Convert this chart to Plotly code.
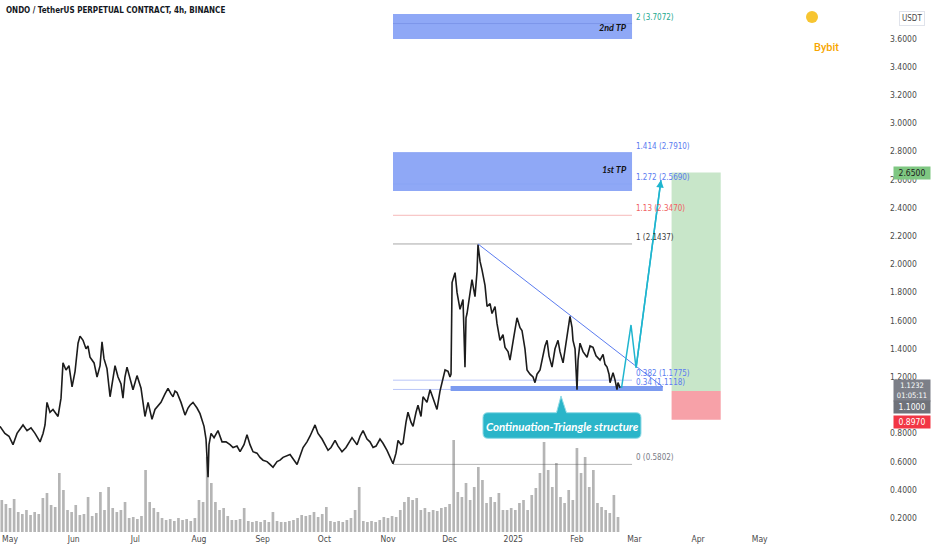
import plotly.graph_objects as go
import pandas as pd

# ---------------- data ----------------
price_dates = [
    "2024-04-26 03:00", "2024-04-28 12:00", "2024-04-30 12:00", "2024-05-02 11:00", "2024-05-04 10:00",
    "2024-05-05 21:00", "2024-05-07 08:00", "2024-05-09 07:00", "2024-05-11 05:00", "2024-05-13 04:00",
    "2024-05-15 15:00", "2024-05-17 02:00", "2024-05-18 01:00", "2024-05-19 00:00", "2024-05-20 11:00",
    "2024-05-21 22:00", "2024-05-23 10:00", "2024-05-24 09:00", "2024-05-25 20:00", "2024-05-26 19:00",
    "2024-05-28 06:00", "2024-05-29 17:00", "2024-05-31 05:00", "2024-06-01 16:00", "2024-06-03 03:00",
    "2024-06-04 02:00", "2024-06-05 13:00", "2024-06-07 00:00", "2024-06-07 23:00", "2024-06-08 23:00",
    "2024-06-10 22:00", "2024-06-12 09:00", "2024-06-13 20:00", "2024-06-14 19:00", "2024-06-15 18:00",
    "2024-06-17 05:00", "2024-06-18 17:00", "2024-06-20 04:00", "2024-06-21 03:00", "2024-06-22 14:00",
    "2024-06-24 01:00", "2024-06-25 00:00", "2024-06-25 23:00", "2024-06-26 23:00", "2024-06-28 10:00",
    "2024-06-29 21:00", "2024-07-01 20:00", "2024-07-03 19:00", "2024-07-05 17:00", "2024-07-07 05:00",
    "2024-07-08 04:00", "2024-07-09 03:00", "2024-07-10 14:00", "2024-07-11 14:00", "2024-07-13 12:00",
    "2024-07-15 11:00", "2024-07-16 22:00", "2024-07-18 09:00", "2024-07-19 09:00", "2024-07-20 08:00",
    "2024-07-21 07:00", "2024-07-23 06:00", "2024-07-25 05:00", "2024-07-26 16:00", "2024-07-27 15:00",
    "2024-07-29 02:00", "2024-07-31 01:00", "2024-08-01 12:00", "2024-08-03 11:00", "2024-08-04 10:00",
    "2024-08-05 10:00", "2024-08-05 21:00", "2024-08-06 21:00", "2024-08-08 08:00", "2024-08-10 06:00",
    "2024-08-12 05:00", "2024-08-14 04:00", "2024-08-16 03:00", "2024-08-17 14:00", "2024-08-19 12:00",
    "2024-08-21 00:00", "2024-08-22 22:00", "2024-08-24 09:00", "2024-08-25 20:00", "2024-08-27 07:00",
    "2024-08-29 06:00", "2024-08-30 17:00", "2024-09-01 04:00", "2024-09-03 03:00", "2024-09-04 14:00",
    "2024-09-06 01:00", "2024-09-08 00:00", "2024-09-09 11:00", "2024-09-10 22:00", "2024-09-12 21:00",
    "2024-09-14 08:00", "2024-09-15 19:00", "2024-09-17 18:00", "2024-09-19 05:00", "2024-09-20 16:00",
    "2024-09-22 14:00", "2024-09-24 01:00", "2024-09-26 12:00", "2024-09-27 23:00", "2024-09-29 22:00",
    "2024-10-01 09:00", "2024-10-02 20:00", "2024-10-04 07:00", "2024-10-06 06:00", "2024-10-07 17:00",
    "2024-10-09 15:00", "2024-10-11 14:00", "2024-10-13 01:00", "2024-10-14 12:00", "2024-10-15 23:00",
    "2024-10-16 23:00", "2024-10-18 10:00", "2024-10-19 21:00", "2024-10-21 19:00", "2024-10-23 06:00",
    "2024-10-24 18:00", "2024-10-26 05:00", "2024-10-28 03:00", "2024-10-29 14:00", "2024-10-31 13:00",
    "2024-11-02 12:00", "2024-11-03 11:00", "2024-11-04 22:00", "2024-11-05 22:00", "2024-11-07 09:00",
    "2024-11-08 08:00", "2024-11-09 19:00", "2024-11-10 18:00", "2024-11-12 05:00", "2024-11-13 05:00",
    "2024-11-14 16:00", "2024-11-15 15:00", "2024-11-17 02:00", "2024-11-18 02:00", "2024-11-20 00:00",
    "2024-11-21 12:00", "2024-11-22 23:00", "2024-11-24 21:00", "2024-11-26 08:00", "2024-11-27 19:00",
    "2024-11-28 19:00", "2024-11-30 06:00", "2024-12-01 05:00", "2024-12-01 17:00", "2024-12-02 05:00",
    "2024-12-03 16:00", "2024-12-04 15:00", "2024-12-06 02:00", "2024-12-07 13:00", "2024-12-08 12:00",
    "2024-12-09 00:00", "2024-12-09 12:00", "2024-12-10 23:00", "2024-12-11 22:00", "2024-12-13 09:00",
    "2024-12-14 09:00", "2024-12-14 20:00", "2024-12-15 20:00", "2024-12-16 19:00", "2024-12-18 06:00",
    "2024-12-19 06:00", "2024-12-20 17:00", "2024-12-21 16:00", "2024-12-23 03:00", "2024-12-24 02:00",
    "2024-12-25 13:00", "2024-12-27 00:00", "2024-12-28 00:00", "2024-12-29 11:00", "2024-12-30 10:00",
    "2024-12-31 21:00", "2025-01-02 20:00", "2025-01-04 07:00", "2025-01-05 06:00", "2025-01-06 17:00",
    "2025-01-07 17:00", "2025-01-09 04:00", "2025-01-10 15:00", "2025-01-11 14:00", "2025-01-12 14:00",
    "2025-01-14 01:00", "2025-01-15 12:00", "2025-01-16 11:00", "2025-01-17 11:00", "2025-01-18 10:00",
    "2025-01-19 21:00", "2025-01-21 08:00", "2025-01-22 19:00", "2025-01-23 18:00", "2025-01-25 06:00",
    "2025-01-26 17:00", "2025-01-28 15:00", "2025-01-29 15:00", "2025-01-30 02:00", "2025-01-31 02:00",
    "2025-02-01 01:00", "2025-02-01 13:00", "2025-02-02 12:00", "2025-02-03 23:00", "2025-02-05 22:00",
    "2025-02-07 09:00", "2025-02-08 20:00", "2025-02-10 07:00", "2025-02-12 06:00", "2025-02-13 17:00",
    "2025-02-14 16:00", "2025-02-15 16:00", "2025-02-16 15:00", "2025-02-17 03:00", "2025-02-18 02:00",
    "2025-02-18 14:00", "2025-02-19 13:00", "2025-02-20 12:00", "2025-02-21 00:00", "2025-02-22 00:00",
]
price_values = [
    0.85, 0.80, 0.78, 0.72, 0.80,
    0.83, 0.86, 0.82, 0.84, 0.80,
    0.74, 0.80, 0.86, 1.02, 0.95,
    0.97, 0.94, 0.92, 1.05, 1.30,
    1.25, 1.28, 1.13, 1.24, 1.44,
    1.49, 1.46, 1.40, 1.42, 1.34,
    1.30, 1.20, 1.28, 1.45, 1.33,
    1.26, 1.06, 1.20, 1.28, 1.20,
    1.15, 1.05, 1.20, 1.27, 1.18,
    1.11, 1.21, 1.12, 0.92, 1.02,
    0.96, 0.90, 0.97, 0.99, 1.02,
    1.08, 1.12, 1.08, 1.06, 1.10,
    1.09, 1.02, 0.93, 0.98, 1.00,
    1.02, 0.98, 0.94, 0.85, 0.76,
    0.49, 0.72, 0.80, 0.77, 0.82,
    0.74, 0.74, 0.72, 0.70, 0.71,
    0.67, 0.72, 0.79, 0.72, 0.67,
    0.66, 0.63, 0.61, 0.60, 0.58,
    0.56, 0.60, 0.61, 0.63, 0.64,
    0.65, 0.62, 0.58, 0.64, 0.70,
    0.74, 0.78, 0.86, 0.80, 0.76,
    0.72, 0.68, 0.70, 0.75, 0.71,
    0.67, 0.70, 0.74, 0.77, 0.74,
    0.72, 0.78, 0.82, 0.76, 0.74,
    0.70, 0.71, 0.76, 0.73, 0.68,
    0.61, 0.585, 0.66, 0.75, 0.72,
    0.73, 0.88, 0.95, 0.88, 0.85,
    0.95, 1.00, 0.92, 1.06, 1.02,
    1.11, 1.05, 0.97, 1.10, 1.18,
    1.25, 1.24, 1.20, 1.22, 1.87,
    1.94, 1.80, 1.68, 1.75, 1.27,
    1.62, 1.65, 1.78, 1.89, 1.77,
    1.95, 2.14, 2.02, 1.96, 1.85,
    1.70, 1.72, 1.65, 1.70, 1.58,
    1.46, 1.50, 1.41, 1.38, 1.32,
    1.45, 1.62, 1.55, 1.53, 1.40,
    1.25, 1.22, 1.20, 1.16, 1.22,
    1.25, 1.35, 1.42, 1.46, 1.35,
    1.27, 1.40, 1.46, 1.38, 1.30,
    1.45, 1.63, 1.55, 1.46, 1.40,
    1.11, 1.32, 1.44, 1.38, 1.34,
    1.42, 1.41, 1.35, 1.32, 1.36,
    1.29, 1.27, 1.22, 1.16, 1.20,
    1.23, 1.18, 1.11, 1.16, 1.123,
]

volume_start = "2024-04-27"
volume_values = [
    32, 28, 24, 33, 20, 18, 22, 17, 20, 18,
    34, 39, 27, 25, 59, 42, 22, 20, 27, 17,
    18, 35, 16, 19, 40, 22, 45, 24, 20, 22,
    30, 14, 15, 13, 16, 62, 30, 24, 20, 14,
    12, 13, 11, 14, 12, 13, 11, 14, 32, 30,
    75, 49, 30, 22, 24, 16, 12, 12, 13, 24,
    11, 10, 11, 10, 12, 10, 20, 11, 10, 10,
    11, 12, 14, 17, 16, 17, 20, 15, 18, 25,
    11, 10, 11, 10, 12, 14, 22, 45, 11, 10,
    11, 10, 12, 15, 14, 16, 15, 22, 30, 35,
    32, 34, 22, 24, 20, 22, 21, 24, 25, 28,
    92, 40, 35, 49, 32, 45, 65, 52, 29, 35,
    30, 39, 22, 22, 24, 22, 29, 32, 22, 37,
    44, 59, 90, 62, 45, 69, 35, 29, 42, 32,
    84, 59, 75, 45, 62, 29, 25, 22, 19, 37,
    15,
]
volume_dates = pd.date_range(volume_start, periods=len(volume_values), freq="2D")

month_ticks = ["2024-05-01", "2024-06-01", "2024-07-01", "2024-08-01", "2024-09-01", "2024-10-01",
               "2024-11-01", "2024-12-01", "2025-01-01", "2025-02-01", "2025-03-01", "2025-04-01",
               "2025-05-01"]
month_labels = ["May", "Jun", "Jul", "Aug", "Sep", "Oct", "Nov", "Dec", "2025", "Feb", "Mar", "Apr", "May"]
price_ticks = [0.2, 0.4, 0.6, 0.8, 1.2, 1.4, 1.6, 1.8, 2.0, 2.2, 2.4, 2.6, 2.8, 3.0, 3.2, 3.4, 3.6]

fib_ratios = ["0", "0.34", "0.382", "1", "1.13", "1.272", "1.414", "2"]
fib_prices = [0.5802, 1.1118, 1.1775, 2.1437, 2.3470, 2.5690, 2.7910, 3.7072]

# projected path (cyan zig-zag)
proj_dates = ["2025-02-22 17:00", "2025-02-27 08:00", "2025-03-01 19:00", "2025-03-13 22:00"]
proj_prices = [1.122, 1.569, 1.264, 2.597]

# trendline
trend_dates = ["2024-12-14 20:00", "2025-03-14 21:00"]
trend_prices = [2.1437, 1.129]

entry_price, stop_price, target_price = 1.1000, 0.8970, 2.6500
last_price = 1.1232
tp1_range = [2.52, 2.791]
tp2_range = [3.597, 3.775]
support_range = [1.100, 1.136]

# ---------------- styles / layout constants ----------------
W, H = 932, 550
ML, MR, MT, MB = 0, 48, 0, 18
PW, PH = W - ML - MR, H - MT - MB
Y_RANGE = [0.1007, 3.874]
X_RANGE = ["2024-04-26 03:00", "2025-06-30 12:00"]

fib_x0, fib_x1, fib_lbl_x = "2024-11-03 11:00", "2025-02-27 20:00", "2025-02-28 19:00"
sup_x0, sup_x1 = "2024-12-01 12:00", "2025-03-14 19:00"
pos_x0, pos_x1 = "2025-03-19 02:00", "2025-04-12 00:00"
tp_text_x = "2025-02-26 09:00"

fib_label_colors = ["#787b86", "#5b7cf0", "#5b7cf0", "#3d3d3d", "#f06262", "#5b7cf0", "#5b7cf0", "#22a88f"]
fib_line_colors = ["#b4b4b4", "#b9c6f8", "#b9c6f8", "#a8a8a8", "#f6b9b9", "#8aa4f4", "#8aa4f4", "#7d96ea"]

CYAN = "#1fb5cf"
BLUE_LINE = "#5b7cf0"
TXT = "#131722"
AX_TXT = "#4a4a4a"
AXFONT = "Liberation Sans Narrow, DejaVu Sans Condensed, Liberation Sans, sans-serif"


def pp(x, y):
    """pixel -> paper coordinate string"""
    return f"{(x - ML) / PW:.5f},{1 - (y - MT) / PH:.5f}"


fig = go.Figure()

# volume (base y axis, hidden)
fig.add_trace(go.Bar(x=volume_dates, y=volume_values, yaxis="y",
                     marker=dict(color="rgba(90,90,90,0.45)", line=dict(width=0)),
                     hoverinfo="skip", showlegend=False))

# price (y2, right)
fig.add_trace(go.Scatter(x=price_dates, y=price_values, yaxis="y2", mode="lines",
                         line=dict(color="#1c1c1c", width=1.6), showlegend=False, hoverinfo="skip"))

# trendline
fig.add_trace(go.Scatter(x=trend_dates, y=trend_prices, yaxis="y2", mode="lines",
                         line=dict(color=BLUE_LINE, width=1), showlegend=False, hoverinfo="skip"))

# projection
fig.add_trace(go.Scatter(x=proj_dates, y=proj_prices, yaxis="y2", mode="lines",
                         line=dict(color=CYAN, width=1.5), showlegend=False, hoverinfo="skip"))

shapes = []
annotations = []

# TP boxes
for rng in (tp1_range, tp2_range):
    shapes.append(dict(type="rect", xref="x", yref="y2", x0=fib_x0, x1=fib_x1, y0=rng[0], y1=rng[1],
                       fillcolor="#8fa8f6", line=dict(width=0), layer="below"))

# fib lines
for p, col in zip(fib_prices, fib_line_colors):
    shapes.append(dict(type="line", xref="x", yref="y2", x0=fib_x0, x1=fib_x1, y0=p, y1=p,
                       line=dict(color=col, width=1), layer="below"))

# support zone
shapes.append(dict(type="rect", xref="x", yref="y2", x0=sup_x0, x1=sup_x1,
                   y0=support_range[0], y1=support_range[1],
                   fillcolor="#7c9bf0", line=dict(width=0), layer="below"))

# long position boxes
shapes.append(dict(type="rect", xref="x", yref="y2", x0=pos_x0, x1=pos_x1, y0=entry_price, y1=target_price,
                   fillcolor="#c8e6c9", line=dict(width=0), layer="below"))
shapes.append(dict(type="rect", xref="x", yref="y2", x0=pos_x0, x1=pos_x1, y0=stop_price, y1=entry_price,
                   fillcolor="#f7a1a8", line=dict(width=0), layer="below"))

# callout
r = 5
x0, x1, y0, y1 = 483, 641, 412.7, 438.3
path = ("M " + pp(x0 + r, y0) + " L " + pp(556.5, y0) + " L " + pp(561, 396) + " L " + pp(566.5, y0) +
        " L " + pp(x1 - r, y0) + " Q " + pp(x1, y0) + " " + pp(x1, y0 + r) +
        " L " + pp(x1, y1 - r) + " Q " + pp(x1, y1) + " " + pp(x1 - r, y1) +
        " L " + pp(x0 + r, y1) + " Q " + pp(x0, y1) + " " + pp(x0, y1 - r) +
        " L " + pp(x0, y0 + r) + " Q " + pp(x0, y0) + " " + pp(x0 + r, y0) + " Z")
shapes.append(dict(type="path", xref="paper", yref="paper", path=path,
                   fillcolor="#2ab5c9", line=dict(color="#8fdbe6", width=1)))
annotations.append(dict(xref="paper", yref="paper", x=(562 - ML) / PW, y=1 - (426 - MT) / PH,
                        xanchor="center", yanchor="middle",
                        text="Continuation-Triangle structure", showarrow=False,
                        font=dict(family="Lato, Roboto, sans-serif", size=11.5, color="white",
                                  style="italic", weight=700)))

# Bybit logo
shapes.append(dict(type="circle", xref="paper", yref="paper",
                   x0=(806 - ML) / PW, x1=(818 - ML) / PW, y0=1 - 23 / PH, y1=1 - 11 / PH,
                   fillcolor="#f7c531", line=dict(width=0)))
annotations.append(dict(xref="paper", yref="paper", x=(812 - ML) / PW, y=1 - 39 / PH, xanchor="left",
                        text="Bybit", showarrow=False,
                        font=dict(family="Roboto, sans-serif", size=11, color="#f7a600", weight=500)))

# projection arrow
annotations.append(dict(xref="x", yref="y2", axref="x", ayref="y2",
                        x=proj_dates[-1], y=proj_prices[-1], ax=proj_dates[-2], ay=proj_prices[-2],
                        text="", showarrow=True, arrowhead=2, arrowsize=1, arrowwidth=1.5,
                        arrowcolor=CYAN, standoff=0))

# fib labels
for ratio, p, col in zip(fib_ratios, fib_prices, fib_label_colors):
    annotations.append(dict(xref="x", yref="y2", x=fib_lbl_x, y=p, xanchor="left", yanchor="bottom",
                            text=f"{ratio} ({p:.4f})", showarrow=False, yshift=0,
                            font=dict(family=AXFONT, size=8, color=col)))

# TP texts
annotations.append(dict(xref="x", yref="y2", x=tp_text_x, y=3.682, xanchor="right", text="2nd TP",
                        showarrow=False, font=dict(family="Lato, sans-serif", size=9, color="#111",
                                                   style="italic", weight=700)))
annotations.append(dict(xref="x", yref="y2", x=tp_text_x, y=2.675, xanchor="right", text="1st TP",
                        showarrow=False, font=dict(family="Lato, sans-serif", size=9, color="#111",
                                                   style="italic", weight=700)))

# title
annotations.append(dict(xref="paper", yref="paper", x=4 / PW, y=1 - 4 / PH, xanchor="left", yanchor="top",
                        text="ONDO / TetherUS PERPETUAL CONTRACT, 4h, BINANCE", showarrow=False,
                        font=dict(family=AXFONT, size=8, color=TXT, weight=700)))

# price axis labels
lbl_x = (912 - ML) / PW
annotations.append(dict(xref="paper", yref="paper", x=lbl_x, y=1 - 11 / PH, xanchor="center",
                        text="USDT", showarrow=False,
                        font=dict(family=AXFONT, size=8, color=AX_TXT), bgcolor="white",
                        bordercolor="#e0e3eb", borderwidth=1, borderpad=2))
annotations.append(dict(xref="paper", yref="y2", x=lbl_x, y=target_price, xanchor="center",
                        text=f"{target_price:.4f}", showarrow=False, width=34,
                        font=dict(family=AXFONT, size=8.5, color="#1b1b1b"),
                        bgcolor="#7fc782", borderpad=1))
annotations.append(dict(xref="paper", yref="y2", x=lbl_x, y=last_price, xanchor="center",
                        text=f"{last_price:.4f}<br>01:05:11", showarrow=False, width=34, yshift=-3,
                        font=dict(family=AXFONT, size=7.5, color="white"),
                        bgcolor="#7c7f88", borderpad=1))
annotations.append(dict(xref="paper", yref="y2", x=lbl_x, y=entry_price, xanchor="center",
                        text=f"{entry_price:.4f}", showarrow=False, width=34, yshift=-16,
                        font=dict(family=AXFONT, size=8.5, color="white"),
                        bgcolor="#6f727a", borderpad=1))
annotations.append(dict(xref="paper", yref="y2", x=lbl_x, y=stop_price, xanchor="center",
                        text=f"{stop_price:.4f}", showarrow=False, width=34, yshift=-2,
                        font=dict(family=AXFONT, size=8.5, color="white"),
                        bgcolor="#f23645", borderpad=1))

fig.update_layout(
    width=W, height=H, margin=dict(l=ML, r=MR, t=MT, b=MB),
    paper_bgcolor="white", plot_bgcolor="white",
    showlegend=False, bargap=0.35,
    shapes=shapes, annotations=annotations,
    xaxis=dict(type="date", range=X_RANGE, showgrid=False, zeroline=False, showline=False,
               tickvals=month_ticks, ticktext=month_labels, ticks="",
               tickfont=dict(family=AXFONT, size=8.5, color=AX_TXT)),
    yaxis=dict(range=[0, PH], visible=False, fixedrange=True),
    yaxis2=dict(overlaying="y", side="right", range=Y_RANGE, showgrid=False, zeroline=False,
                showline=False, tickvals=price_ticks, tickformat=".4f", ticks="",
                ticklabelstandoff=5, tickfont=dict(family=AXFONT, size=8.5, color=AX_TXT)),
)

fig.write_html("out.html", config={"displayModeBar": False},
               post_script="document.body.style.margin='0px';")
